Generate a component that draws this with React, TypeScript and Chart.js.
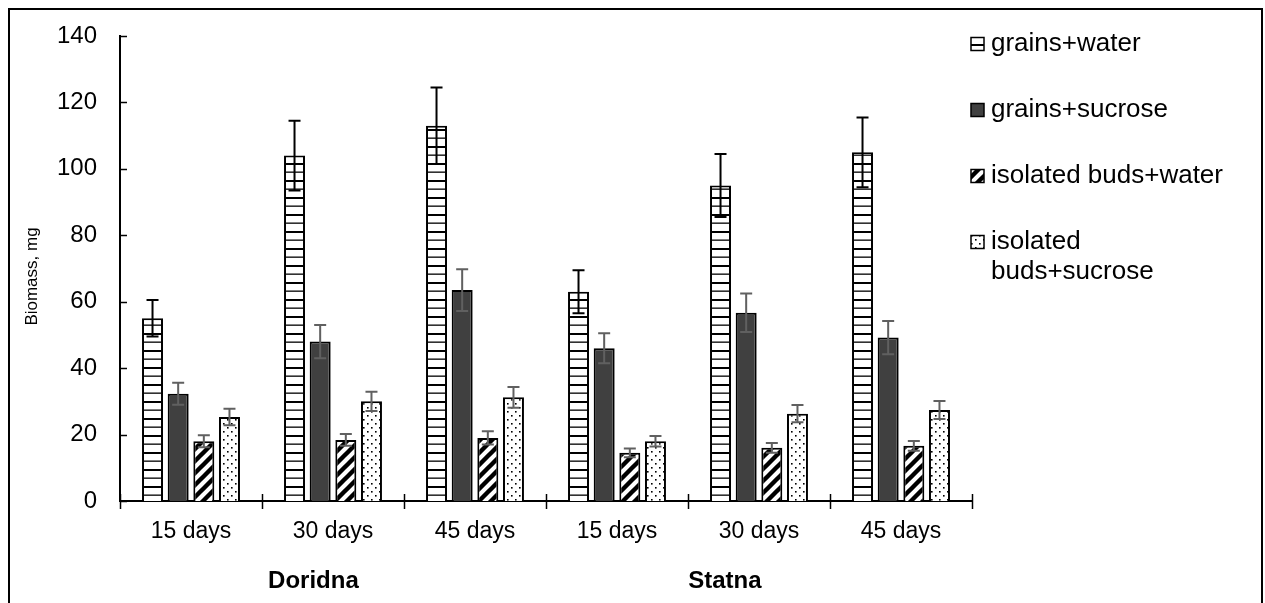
import React, { useEffect, useRef } from 'react';
import { Chart, registerables } from 'chart.js';

Chart.register(...registerables);

// ---------- data ----------
const categories = ['15 days', '30 days', '45 days', '15 days', '30 days', '45 days'];
const groupLabels = ['Doridna', 'Statna'];
const seriesNames = ['grains+water', 'grains+sucrose', 'isolated buds+water', 'isolated buds+sucrose'];

const grainsWater = [55, 104, 113, 63, 95, 105];
const grainsWaterErr = [5.5, 10.5, 11.5, 6.5, 9.5, 10.5];
const grainsSucrose = [32.3, 48, 63.5, 46, 56.7, 49.2];
const grainsSucroseErr = [3.3, 5, 6.3, 4.5, 5.8, 5];
const budsWater = [18, 18.4, 19, 14.5, 16, 16.6];
const budsWaterErr = [1.8, 1.8, 2, 1.3, 1.5, 1.5];
const budsSucrose = [25.3, 30, 31.2, 18, 26.3, 27.4];
const budsSucroseErr = [2.5, 2.9, 3.1, 1.6, 2.6, 2.7];

const yMin = 0;
const yMax = 140;
const yStep = 20;

// ---------- styling / layout ----------
const FONT = '"Liberation Sans", Arial, Helvetica, sans-serif';
const errColors = ['#000000', '#606060', '#606060', '#606060'];
const groupLabelFrac = [0.227, 0.71]; // centre of group label along x axis (fraction of axis width)
const CANVAS_W = 1249;
const CANVAS_H = 593;

function makePattern(kind: string): CanvasPattern | string {
  const c = document.createElement('canvas');
  const g = c.getContext('2d')!;
  if (kind === 'hlines') {
    c.width = 8; c.height = 17;
    g.fillStyle = '#fff'; g.fillRect(0, 0, 8, 17);
    g.fillStyle = '#000';
    g.fillRect(0, 0, 8, 2);
    g.fillRect(0, 8.5, 8, 1.3);
  } else if (kind === 'diag') {
    c.width = 12; c.height = 12;
    g.fillStyle = '#fff'; g.fillRect(0, 0, 12, 12);
    g.strokeStyle = '#000'; g.lineWidth = 4.4; g.lineCap = 'square';
    g.beginPath();
    g.moveTo(-6, 18); g.lineTo(18, -6);
    g.moveTo(-12, 12); g.lineTo(12, -12);
    g.moveTo(0, 24); g.lineTo(24, 0);
    g.stroke();
  } else if (kind === 'dots') {
    c.width = 8; c.height = 8;
    g.fillStyle = '#fff'; g.fillRect(0, 0, 8, 8);
    g.fillStyle = '#000';
    g.fillRect(1, 1, 1.6, 1.6);
    g.fillRect(5, 5, 1.6, 1.6);
  } else {
    return '#404040';
  }
  return g.createPattern(c, 'repeat')!;
}

function wrapText(ctx: CanvasRenderingContext2D, text: string, maxW: number): string[] {
  const words = text.split(' ');
  const lines: string[] = [];
  let cur = '';
  for (const w of words) {
    const t = cur ? cur + ' ' + w : w;
    if (cur && ctx.measureText(t).width > maxW) {
      lines.push(cur);
      cur = w;
    } else cur = t;
  }
  if (cur) lines.push(cur);
  return lines;
}

const decorPlugin = {
  id: 'decor',
  afterDatasetsDraw(chart: any) {
    const ctx: CanvasRenderingContext2D = chart.ctx;
    const ys = chart.scales.y;
    chart.data.datasets.forEach((ds: any, i: number) => {
      const meta = chart.getDatasetMeta(i);
      ctx.save();
      ctx.strokeStyle = errColors[i];
      ctx.lineWidth = 2;
      meta.data.forEach((el: any, j: number) => {
        const v = ds.data[j];
        const e = ds.errors[j];
        const x = el.x;
        const yt = ys.getPixelForValue(v + e);
        const yb = ys.getPixelForValue(v - e);
        ctx.beginPath();
        ctx.moveTo(x, yt); ctx.lineTo(x, yb);
        ctx.moveTo(x - 6, yt); ctx.lineTo(x + 6, yt);
        ctx.moveTo(x - 6, yb); ctx.lineTo(x + 6, yb);
        ctx.stroke();
      });
      ctx.restore();
    });
  },
  afterDraw(chart: any) {
    const ctx: CanvasRenderingContext2D = chart.ctx;
    const ca = chart.chartArea;
    const xs = chart.scales.x;
    const ys = chart.scales.y;
    ctx.save();
    ctx.strokeStyle = '#000';
    ctx.lineWidth = 1.5;
    // y tick marks (inside)
    for (let v = yMin; v <= yMax; v += yStep) {
      const y = Math.round(ys.getPixelForValue(v)) + 0.5;
      ctx.beginPath();
      ctx.moveTo(ca.left, y); ctx.lineTo(ca.left + 7, y);
      ctx.stroke();
    }
    // x tick marks (cross) at category boundaries
    const half = (xs.getPixelForValue(1) - xs.getPixelForValue(0)) / 2;
    for (let i = 0; i <= categories.length; i++) {
      const x = Math.round(xs.getPixelForValue(i) - half) + 0.5;
      ctx.beginPath();
      ctx.moveTo(x, ca.bottom - 7); ctx.lineTo(x, ca.bottom + 8);
      ctx.stroke();
    }
    // group labels
    ctx.fillStyle = '#000';
    ctx.font = `bold 24px ${FONT}`;
    ctx.textAlign = 'center';
    ctx.textBaseline = 'middle';
    groupLabels.forEach((g, i) => {
      const x = ca.left + groupLabelFrac[i] * (ca.right - ca.left);
      ctx.fillText(g, x, ca.bottom + 80);
    });
    // y axis title
    ctx.save();
    ctx.font = `17px ${FONT}`;
    ctx.translate(22, (ca.top + ca.bottom) / 2 + 8);
    ctx.rotate(-Math.PI / 2);
    ctx.fillText('Biomass, mg', 0, 0);
    ctx.restore();
    // legend
    ctx.font = `26px ${FONT}`;
    ctx.textAlign = 'left';
    const lx = ca.right - 1;
    let ly = ca.top + 8;
    chart.data.datasets.forEach((ds: any) => {
      ctx.fillStyle = ds.backgroundColor;
      ctx.fillRect(lx, ly - 6.5, 13, 13);
      ctx.lineWidth = 1.5;
      ctx.strokeStyle = '#000';
      ctx.strokeRect(lx, ly - 6.5, 13, 13);
      ctx.fillStyle = '#000';
      const lines = wrapText(ctx, ds.label, 245);
      lines.forEach((ln, k) => ctx.fillText(ln, lx + 20, ly + k * 30));
      ly += 66;
    });
    ctx.restore();
  },
};

export default function App() {
  const ref = useRef<HTMLCanvasElement>(null);
  useEffect(() => {
    const values = [grainsWater, grainsSucrose, budsWater, budsSucrose];
    const errors = [grainsWaterErr, grainsSucroseErr, budsWaterErr, budsSucroseErr];
    const fills = ['hlines', 'solid', 'diag', 'dots'];
    const chart = new Chart(ref.current!, {
      type: 'bar',
      data: {
        labels: categories,
        datasets: seriesNames.map((name, i) => ({
          label: name,
          data: values[i],
          errors: errors[i],
          backgroundColor: makePattern(fills[i]),
          borderColor: '#000',
          borderWidth: 2,
          categoryPercentage: 0.7226,
          barPercentage: 0.818,
        })) as any,
      },
      options: {
        responsive: false,
        animation: false,
        layout: { padding: { top: 26, right: CANVAS_W - 962, left: 0, bottom: 0 } },
        plugins: { legend: { display: false }, tooltip: { enabled: false } },
        scales: {
          x: {
            type: 'category',
            offset: true,
            grid: { display: false, drawTicks: true, tickLength: 17 },
            border: { display: true, color: '#000', width: 2 },
            ticks: { color: '#000', font: { family: FONT, size: 23 }, padding: 0, maxRotation: 0, autoSkip: false },
            afterFit: (s: any) => { s.height = CANVAS_H - 491; },
          },
          y: {
            min: yMin,
            max: yMax,
            grid: { display: false, drawTicks: true, tickLength: 23 },
            border: { display: true, color: '#000', width: 2 },
            ticks: { stepSize: yStep, color: '#000', font: { family: FONT, size: 24 }, padding: 0 },
            afterFit: (s: any) => { s.width = 110; },
          },
        },
      },
      plugins: [decorPlugin],
    });
    return () => chart.destroy();
  }, []);
  return (
    <>
      <style>{'html,body{overflow:hidden}'}</style>
      <div
        style={{
          position: 'fixed', left: 8, top: 8, width: CANVAS_W + 6, height: 700,
          boxSizing: 'border-box', border: '2px solid #000', background: '#fff',
        }}
      />
      <canvas
        ref={ref}
        width={CANVAS_W}
        height={CANVAS_H}
        style={{ display: 'block', position: 'fixed', left: 10, top: 10 }}
      />
    </>
  );
}
